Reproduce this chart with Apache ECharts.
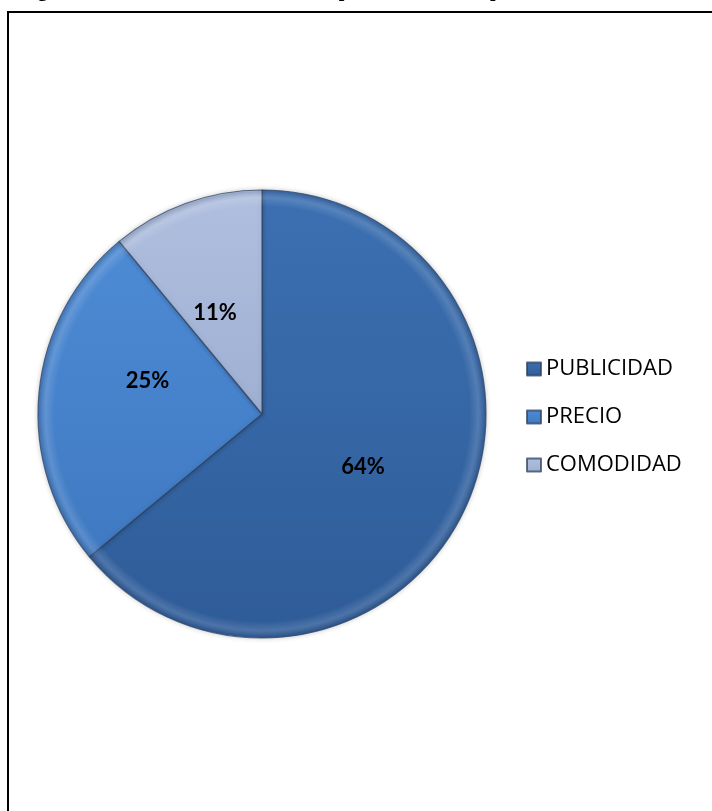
<!DOCTYPE html>
<html>
<head>
<meta charset="utf-8">
<script src="https://cdn.jsdelivr.net/npm/echarts@6/dist/echarts.min.js"></script>
<style>
  html, body { margin: 0; padding: 0; background: #fff; }
  #chart { width: 712px; height: 811px; }
</style>
</head>
<body>
<div id="chart"></div>
<script>
// Motivos de preferencia (porcentaje de respuestas)
const categories = ['PUBLICIDAD', 'PRECIO', 'COMODIDAD'];
const values = [64, 25, 11];
const captionText = 'Figura 10: Motivo de elección de compra del cliente en primera instancia';

// Slice fills: vertical gradients give the bevelled look
const fills = [
  ['#3C70B2', '#2F5C98'],
  ['#4E8BD5', '#3F79C2'],
  ['#B0BFDF', '#9FB0D3']
];
// small nudges so each percentage sits where it reads best
const labelOffsets = [[-3, 4], [0, -22], [-8, 7]];

function grad(pair) {
  return new echarts.graphic.LinearGradient(0, 0, 0, 1, [
    { offset: 0, color: pair[0] },
    { offset: 1, color: pair[1] }
  ]);
}

const pieData = categories.map((name, i) => ({
  name: name,
  value: values[i],
  itemStyle: { color: grad(fills[i]) },
  label: { offset: labelOffsets[i] }
}));

const chart = echarts.init(document.getElementById('chart'));
chart.setOption({
  backgroundColor: '#ffffff',
  animation: false,
  title: {
    text: captionText,
    left: 15,
    top: -24,
    textStyle: {
      fontFamily: 'Liberation Serif',
      fontWeight: 'bold',
      fontSize: 20,
      color: '#000'
    }
  },
  legend: {
    orient: 'vertical',
    left: 521,
    top: 353,
    itemWidth: 14,
    itemHeight: 13,
    itemGap: 26,
    icon: 'rect',
    textStyle: {
      fontFamily: 'Open Sans',
      fontSize: 22,
      color: '#000',
      padding: [0, 0, 0, 0]
    },
    data: categories
  },
  graphic: [{
    type: 'rect',
    shape: { x: 8, y: 12, width: 720, height: 820 },
    style: { fill: 'none', stroke: '#000', lineWidth: 2 },
    silent: true
  }],
  series: [{
    type: 'pie',
    center: [262, 414],
    radius: [0, 224],
    startAngle: 90,
    clockwise: true,
    label: {
      show: true,
      position: 'inside',
      formatter: '{c}%',
      fontFamily: 'Lato',
      fontWeight: 'bold',
      fontSize: 22,
      color: '#000'
    },
    labelLine: { show: false },
    itemStyle: {
      borderColor: 'rgba(45,65,95,0.75)',
      borderWidth: 1.2,
      shadowColor: 'rgba(0,0,0,0.2)',
      shadowBlur: 5
    },
    emphasis: { disabled: true },
    data: pieData
  }, {
    // thin highlight band along the rim
    type: 'pie',
    center: [262, 414],
    radius: [208, 223],
    startAngle: 90,
    clockwise: true,
    silent: true,
    label: { show: false },
    labelLine: { show: false },
    itemStyle: {
      color: new echarts.graphic.RadialGradient(262, 414, 223, [
        { offset: 0.93, color: 'rgba(255,255,255,0)' },
        { offset: 0.97, color: 'rgba(255,255,255,0.14)' },
        { offset: 1, color: 'rgba(40,60,90,0.2)' }
      ], true),
      borderWidth: 0
    },
    legendHoverLink: false,
    data: categories.map((name, i) => ({ name: name + ' ', value: values[i] }))
  }]
});
</script>
</body>
</html>
